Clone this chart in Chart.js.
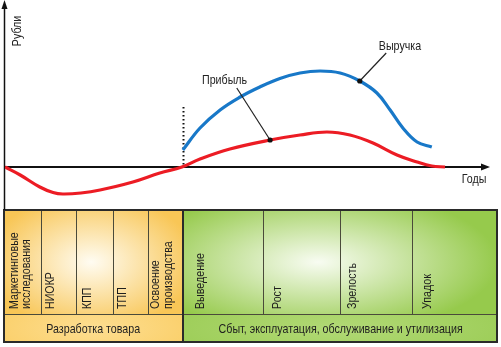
<!DOCTYPE html>
<html>
<head>
<meta charset="utf-8">
<script src="https://cdn.jsdelivr.net/npm/chart.js@4/dist/chart.umd.min.js"></script>
<style>
html,body{margin:0;padding:0;background:#fff;}
canvas{display:block;}
</style>
</head>
<body>
<canvas id="c" width="501" height="347"></canvas>
<script>
// ---- data (arbitrary units: x = time, y = roubles) ----
const profitX  = [0, 3.1, 7.1, 9.8, 11.8, 15.5, 19.4, 26.1, 31.6, 36.1, 39.8, 45.9, 54.1, 60.2, 65.7, 70.4, 75.1, 80.0, 84.1, 87.1, 89.8];
const profitY  = [0, -8, -20, -25.5, -27, -26, -23, -15, -6, 0, 8, 18, 27, 32, 35, 32, 24, 12, 5, 1, 0];
const revenueX = [36.3, 39.8, 43.9, 48.0, 52.0, 56.1, 60.2, 64.3, 68.4, 72.4, 75.9, 78.6, 81.2, 84.1, 87.1];
const revenueY = [17, 39, 57, 70, 80, 88.5, 94, 96, 94, 86, 74, 57, 39, 25, 20];
const calloutX = [54.1, 72.4];
const calloutY = [27, 86];
const calloutLabels = ['Прибыль', 'Выручка'];
const labelX = [44.8, 80.6];
const labelY = [87, 121];
const leaderX = [47.3, 77.8];
const leaderY = [79, 114];
const launchX = 36.4;
const launchTopY = 60;
const axisXLabel = 'Годы';
const axisYLabel = 'Рубли';

const devStages = ['Маркетинговые\nисследования', 'НИОКР', 'КПП', 'ТПП', 'Освоение\nпроизводства'];
const devEdges  = [-0.4, 7.3, 14.5, 22.0, 29.1, 36.4];
const lifeStages = ['Выведение', 'Рост', 'Зрелость', 'Упадок'];
const lifeEdges  = [36.4, 52.6, 68.4, 83.0, 100.6];
const devTitle  = 'Разработка товара';
const lifeTitle = 'Сбыт, эксплуатация, обслуживание и утилизация';

const FONT = '13px "Liberation Sans", Arial, sans-serif';
const SQUEEZE = 0.82;

function pts(xs, ys){ return xs.map((x,i)=>({x:x, y:ys[i]})); }

// draw condensed text at (x,y) with optional rotation
function narrowText(ctx, text, x, y, align, rot){
  ctx.save();
  ctx.translate(x, y);
  if (rot) ctx.rotate(rot);
  ctx.scale(SQUEEZE, 1);
  ctx.font = FONT;
  ctx.textAlign = align; ctx.textBaseline = 'middle';
  ctx.fillText(text, 0, 0);
  ctx.restore();
}

const decor = {
  id: 'decor',
  beforeDatasetsDraw(chart){
    const ctx = chart.ctx, xs = chart.scales.x, ys = chart.scales.y;
    const y0 = Math.round(ys.getPixelForValue(0));
    const ax = Math.round(xs.getPixelForValue(0));
    // ---- table ----
    const tTop = 210, tMid = 314, tBot = 342;
    function cellGrad(x1, x2, y1, y2, edge, center, cx, cy, rx, ry){
      ctx.save();
      ctx.beginPath(); ctx.rect(x1, y1, x2-x1, y2-y1); ctx.clip();
      ctx.translate(cx, cy); ctx.scale(rx/ry, 1);
      const g = ctx.createRadialGradient(0,0,0,0,0,ry);
      g.addColorStop(0, center); g.addColorStop(1, edge);
      ctx.fillStyle = g;
      ctx.fillRect(-1000, -1000, 2000, 2000);
      ctx.restore();
    }
    const dL = xs.getPixelForValue(devEdges[0]), dR = xs.getPixelForValue(devEdges[devEdges.length-1]);
    const lL = xs.getPixelForValue(lifeEdges[0]), lR = xs.getPixelForValue(lifeEdges[lifeEdges.length-1]);
    cellGrad(dL, dR, tTop, tMid, 'rgb(248,198,86)', 'rgb(255,252,242)', (dL+dR)/2 - 2, 262, 105, 68);
    cellGrad(dL, dR, tMid, tBot, 'rgb(250,205,100)', 'rgb(253,222,145)', (dL+dR)/2, 328, 120, 40);
    cellGrad(lL, lR, tTop, tMid, 'rgb(150,202,76)', 'rgb(248,252,242)', 318, 262, 180, 72);
    cellGrad(lL, lR, tMid, tBot, 'rgb(154,204,84)', 'rgb(178,217,118)', 340, 328, 200, 40);
    // inner dividers
    ctx.save();
    ctx.strokeStyle = '#4a4a3a'; ctx.lineWidth = 1;
    ctx.beginPath();
    devEdges.slice(1, -1).concat(lifeEdges.slice(1, -1)).forEach(v=>{
      const px = Math.round(xs.getPixelForValue(v)) + 0.5;
      ctx.moveTo(px, tTop); ctx.lineTo(px, tMid);
    });
    ctx.moveTo(dL, tMid + 0.5); ctx.lineTo(lR, tMid + 0.5);
    ctx.stroke();
    ctx.strokeStyle = '#2a2a2a'; ctx.lineWidth = 2;
    const bx = Math.round(lL);
    ctx.beginPath(); ctx.moveTo(bx, tTop); ctx.lineTo(bx, tBot); ctx.stroke();
    ctx.strokeRect(Math.round(dL)+1, tTop, Math.round(lR)-Math.round(dL)-2, tBot-tTop);
    ctx.restore();
    // rotated stage labels
    ctx.save();
    ctx.fillStyle = '#1e1e1e';
    function stageText(names, edges, offsets){
      names.forEach((n,i)=>{
        const lines = n.split('\n');
        const left = xs.getPixelForValue(edges[i]);
        lines.forEach((ln,j)=>{
          narrowText(ctx, ln, left + offsets[i] + j*12.5, 309, 'left', -Math.PI/2);
        });
      });
    }
    stageText(devStages, devEdges, [11, 10, 11, 10, 8]);
    stageText(lifeStages, lifeEdges, [17, 15, 12, 16]);
    narrowText(ctx, devTitle, (dL+dR)/2, 329, 'center');
    narrowText(ctx, lifeTitle, (lL+lR)/2, 329, 'center');
    ctx.restore();

    // ---- axes ----
    ctx.save();
    ctx.strokeStyle = '#111'; ctx.fillStyle = '#111';
    ctx.lineWidth = 1.5;
    ctx.beginPath(); ctx.moveTo(ax - 0.5, tTop); ctx.lineTo(ax - 0.5, 6); ctx.stroke();
    ctx.beginPath(); ctx.moveTo(ax - 0.5, 0); ctx.lineTo(ax - 3.5, 9); ctx.lineTo(ax + 2.5, 9); ctx.closePath(); ctx.fill();
    ctx.lineWidth = 2;
    ctx.beginPath(); ctx.moveTo(ax - 1, y0); ctx.lineTo(484, y0); ctx.stroke();
    ctx.beginPath(); ctx.moveTo(490, y0); ctx.lineTo(481, y0 - 3.5); ctx.lineTo(481, y0 + 3.5); ctx.closePath(); ctx.fill();
    // dotted launch line
    const lx = Math.round(xs.getPixelForValue(launchX)) + 0.5;
    ctx.lineWidth = 2; ctx.setLineDash([1.5, 2.5]);
    ctx.beginPath(); ctx.moveTo(lx, ys.getPixelForValue(launchTopY)); ctx.lineTo(lx, y0); ctx.stroke();
    ctx.setLineDash([]);
    // axis labels
    ctx.fillStyle = '#222';
    narrowText(ctx, axisXLabel, 474, 179, 'center');
    narrowText(ctx, axisYLabel, 17, 31, 'center', -Math.PI/2);
    ctx.restore();
  },
  afterDatasetsDraw(chart){
    const ctx = chart.ctx, xs = chart.scales.x, ys = chart.scales.y;
    ctx.save();
    ctx.strokeStyle = '#222'; ctx.lineWidth = 1.2;
    ctx.fillStyle = '#222';
    calloutLabels.forEach((t,i)=>{
      ctx.beginPath();
      ctx.moveTo(xs.getPixelForValue(leaderX[i]), ys.getPixelForValue(leaderY[i]));
      ctx.lineTo(xs.getPixelForValue(calloutX[i]), ys.getPixelForValue(calloutY[i]));
      ctx.stroke();
      narrowText(ctx, t, xs.getPixelForValue(labelX[i]), ys.getPixelForValue(labelY[i]), 'center');
    });
    ctx.fillStyle = '#111';
    calloutX.forEach((x,i)=>{
      ctx.beginPath();
      ctx.arc(xs.getPixelForValue(x), ys.getPixelForValue(calloutY[i]), 2.6, 0, Math.PI*2);
      ctx.fill();
    });
    ctx.restore();
  }
};

new Chart(document.getElementById('c'), {
  type: 'line',
  data: {
    datasets: [
      { label: 'Выручка', data: pts(revenueX, revenueY), borderColor: 'rgb(24,120,200)', borderWidth: 3.2,
        pointRadius: 0, tension: 0.4, fill: false, borderCapStyle: 'butt' },
      { label: 'Прибыль', data: pts(profitX, profitY), borderColor: 'rgb(236,28,36)', borderWidth: 3.2,
        pointRadius: 0, tension: 0.4, fill: false, borderCapStyle: 'butt' }
    ]
  },
  options: {
    responsive: false,
    animation: false,
    devicePixelRatio: 1,
    layout: { padding: { left: 5, right: 6, top: 2, bottom: 145 } },
    plugins: { legend: { display: false }, tooltip: { enabled: false } },
    scales: {
      x: { type: 'linear', min: 0, max: 100, display: false },
      y: { type: 'linear', min: -35, max: 165, display: false }
    }
  },
  plugins: [decor]
});
</script>
</body>
</html>
